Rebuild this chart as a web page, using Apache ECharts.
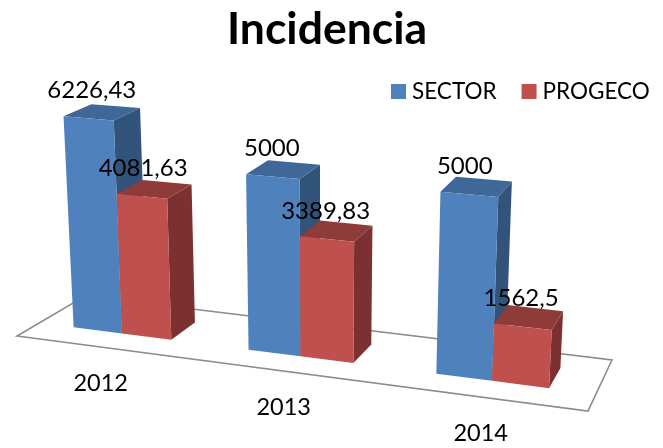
<!DOCTYPE html>
<html>
<head>
<meta charset="utf-8">
<style>html,body{margin:0;padding:0;background:#fff}#c{width:663px;height:448px}</style>
<script src="https://cdn.jsdelivr.net/npm/echarts@6/dist/echarts.min.js"></script>
</head>
<body>
<div id="c"></div>
<script>
var categories = ['2012', '2013', '2014'];
var sectorValues = [6226.43, 5000, 5000];
var progecoValues = [4081.63, 3389.83, 1562.5];
var sectorLabels = ['6226,43', '5000', '5000'];
var progecoLabels = ['4081,63', '3389,83', '1562,5'];

var FONT = 'Lato, "Open Sans", sans-serif';
// Perspective camera of the floor plane: unit square (u, v) -> screen
var CAM = {a:509.3, b:75.5, c:17, d:31.9, e:-13.9, f:336, g:-0.1049, h:0.0883, vpx:321, vpy:5500, rise:0.035};
var BAR_FRAC = 0.2835, BAR_SHIFT = -0.004, V_FRONT = 0.31, V_BACK = 0.715;

function project(u, v, hpx) {
  var w = 1 + CAM.g * u + CAM.h * v;
  var X = (CAM.a * u + CAM.b * v + CAM.c) / w;
  var Y = (CAM.d * u + CAM.e * v + CAM.f) / w;
  var H = hpx / w * (1 + CAM.rise * v);
  return [X - (CAM.vpx - X) * H / (CAM.vpy - Y), Y - H];
}
function poly(points, fill) {
  return {type: 'polygon', shape: {points: points}, style: {fill: fill}};
}
function barRenderer(side, colors, labels, withCategory) {
  return function (params, api) {
    var cs = params.coordSys;
    var i = api.value(0);
    var hpx = api.coord([i, 0])[1] - api.coord([i, api.value(1)])[1];
    var cu = (api.coord([i, 0])[0] - cs.x) / cs.width;
    var bu = api.size([1, 0])[0] * BAR_FRAC / cs.width;
    var u0 = (side < 0 ? cu - bu : cu) + BAR_SHIFT;
    var u1 = u0 + bu;
    var fbl = project(u0, V_FRONT, 0), fbr = project(u1, V_FRONT, 0);
    var ftl = project(u0, V_FRONT, hpx), ftr = project(u1, V_FRONT, hpx);
    var bbr = project(u1, V_BACK, 0);
    var btl = project(u0, V_BACK, hpx), btr = project(u1, V_BACK, hpx);
    var labelLean = (0.35 - (u0 + u1) / 2) * hpx * 0.0625;
    var children = [
      poly([fbr, bbr, btr, ftr], colors.side),
      poly([ftl, ftr, btr, btl], colors.top),
      poly([fbl, fbr, ftr, ftl], colors.front),
      {type: 'text', z2: 10, style: {
        text: labels[i], x: (ftl[0] + ftr[0]) / 2 + labelLean, y: (ftl[1] + ftr[1]) / 2 - 28,
        fill: '#000', font: '24px ' + FONT, align: 'center', verticalAlign: 'middle'
      }}
    ];
    if (withCategory) {
      var p = project(cu, 0, 0);
      children.push({type: 'text', z2: 10, style: {
        text: categories[i], x: p[0] - 3, y: p[1] + 36,
        fill: '#000', font: '23.5px ' + FONT, align: 'center', verticalAlign: 'middle'
      }});
    }
    return {type: 'group', children: children};
  };
}
function toData(vals) { return vals.map(function (v, i) { return [i, v]; }); }

var chart = echarts.init(document.getElementById('c'), null, {renderer: 'canvas'});
chart.setOption({
  animation: false,
  backgroundColor: '#fff',
  title: {
    text: 'Incidencia', left: 322, top: 2, textAlign: 'center',
    textStyle: {fontFamily: FONT, fontWeight: 'bold', fontSize: 44.5, color: '#000'}
  },
  legend: {
    data: ['SECTOR', 'PROGECO'], left: 391, top: 80, padding: 0, itemWidth: 15, itemHeight: 15, itemGap: 25,
    icon: 'rect', textStyle: {fontFamily: FONT, fontSize: 22.5, color: '#000', padding: [0, 0, 0, 1]}
  },
  grid: {left: 17, top: 60, width: 571, height: 239.4},
  xAxis: {type: 'category', data: categories, show: false},
  yAxis: {type: 'value', min: 0, max: 7000, show: false},
  series: [
    {
      type: 'custom', name: 'floor', silent: true, clip: false, data: [[0, 0]], z: 1,
      renderItem: function () {
        return {
          type: 'polygon',
          shape: {points: [project(0, 0, 0), project(1, 0, 0), project(1, 1, 0), project(0, 1, 0)]},
          style: {fill: '#fff', stroke: '#8c8c8c', lineWidth: 1.6}
        };
      }
    },
    {
      type: 'custom', name: 'SECTOR', clip: false, z: 2, data: toData(sectorValues),
      itemStyle: {color: '#4F81BD'},
      renderItem: barRenderer(-1, {front: '#4F81BD', top: '#3F6797', side: '#32537A'}, sectorLabels, true)
    },
    {
      type: 'custom', name: 'PROGECO', clip: false, z: 3, data: toData(progecoValues),
      itemStyle: {color: '#C0504D'},
      renderItem: barRenderer(1, {front: '#C0504D', top: '#8E3B39', side: '#7C3130'}, progecoLabels, false)
    }
  ]
});
</script>
</body>
</html>
